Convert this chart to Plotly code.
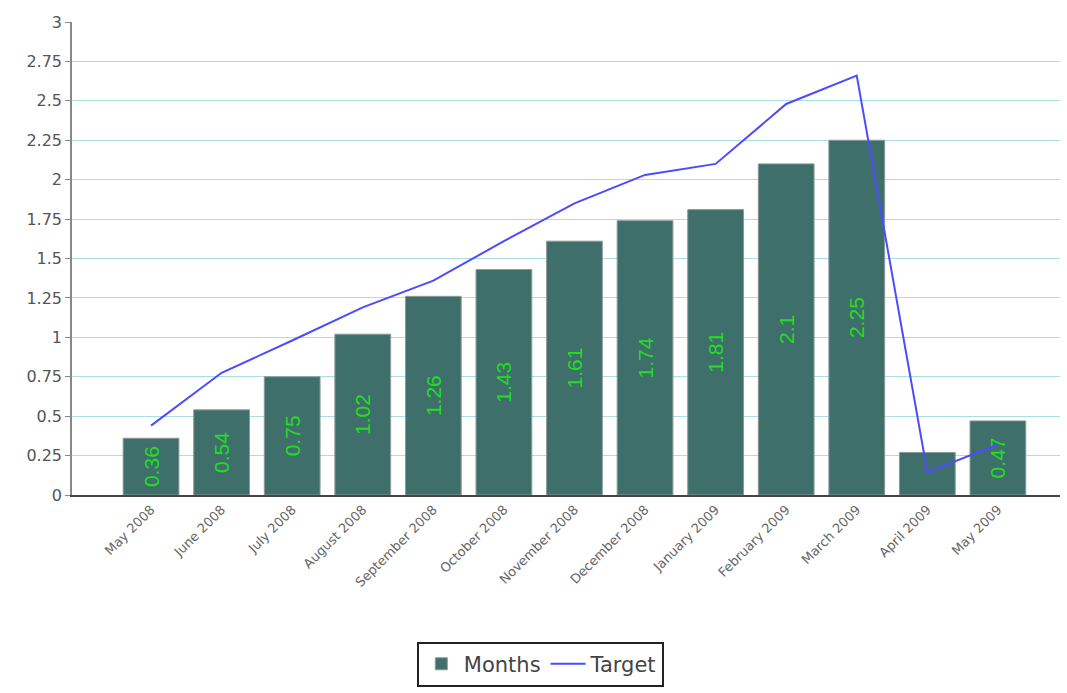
import plotly.graph_objects as go

months = ["May 2008", "June 2008", "July 2008", "August 2008", "September 2008",
          "October 2008", "November 2008", "December 2008", "January 2009",
          "February 2009", "March 2009", "April 2009", "May 2009"]
values = [0.36, 0.54, 0.75, 1.02, 1.26, 1.43, 1.61, 1.74, 1.81, 2.1, 2.25, 0.27, 0.47]
target = [0.44, 0.775, 0.98, 1.19, 1.36, 1.61, 1.85, 2.03, 2.10, 2.48, 2.66, 0.145, 0.32]
y_ticks = [0, 0.25, 0.5, 0.75, 1, 1.25, 1.5, 1.75, 2, 2.25, 2.5, 2.75, 3]

bar_text = [f"{v:g}" if v >= 0.3 else "" for v in values]

fig = go.Figure()
fig.add_trace(go.Bar(
    x=months, y=values, name="Months",
    marker=dict(color="#3f6f6b", line=dict(color="#8a9a98", width=1)),
    width=0.79,
    text=bar_text, textposition="inside", insidetextanchor="middle",
    textangle=-90,
    textfont=dict(color="#22dd22", size=21, family="Liberation Sans, Arial, sans-serif"),
))
fig.add_trace(go.Scatter(
    x=months, y=target, name="Target", mode="lines",
    line=dict(color="#4b4bff", width=2),
))

fig.update_layout(
    width=1067, height=693,
    margin=dict(l=72, r=7, t=22, b=198),
    plot_bgcolor="white", paper_bgcolor="white",
    font=dict(family="DejaVu Sans, Verdana, sans-serif", color="#555555"),
    showlegend=True,
    uniformtext=dict(minsize=10, mode="show"),
    legend=dict(orientation="h", x=0.474, xanchor="center", y=-0.31, yanchor="top",
                bordercolor="#222222", borderwidth=2,
                font=dict(size=21, color="#444444"), itemwidth=35),
    bargap=0.2,
)
fig.update_xaxes(
    type="category", range=[-1.12, 12.88],
    tickangle=-45, tickfont=dict(size=13, color="#666666"),
    showline=True, linecolor="#444444", linewidth=2,
    showgrid=False, ticks="",
)
fig.update_yaxes(
    range=[0, 3], tickvals=y_ticks, ticktext=[f"{t:g}" for t in y_ticks],
    tickfont=dict(size=16, color="#555555"),
    showline=True, linecolor="#888888", linewidth=1.5,
    ticks="outside", ticklen=5, tickcolor="#888888",
    showgrid=True, gridcolor="#aadde6", gridwidth=1.2,
    zeroline=False,
)

fig.write_html("out.html")
